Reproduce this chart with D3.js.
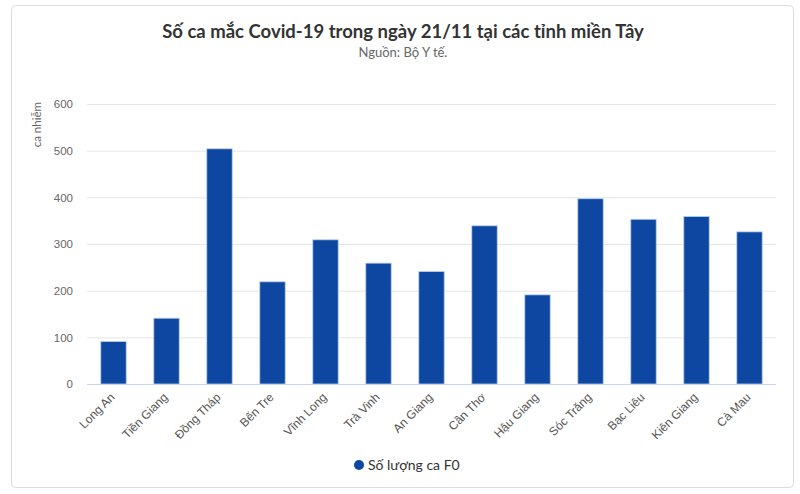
<!DOCTYPE html>
<html>
<head>
<meta charset="utf-8">
<script src="https://cdn.jsdelivr.net/npm/d3@7"></script>
<style>
  html, body { margin: 0; padding: 0; background: #fff; }
  svg { display: block; font-family: Lato, "Open Sans", sans-serif; }
</style>
</head>
<body>
<svg id="chart" width="800" height="494"></svg>
<script>
const categories = ["Long An", "Tiền Giang", "Đồng Tháp", "Bến Tre", "Vĩnh Long", "Trà Vinh", "An Giang", "Cần Thơ", "Hậu Giang", "Sóc Trăng", "Bạc Liêu", "Kiên Giang", "Cà Mau"];
const values = [91, 141, 504, 219, 309, 259, 241, 339, 191, 397, 353, 359, 326];
const yTicks = [0, 100, 200, 300, 400, 500, 600];
const seriesName = "Số lượng ca F0";
const titleText = "Số ca mắc Covid-19 trong ngày 21/11 tại các tỉnh miền Tây";
const subtitleText = "Nguồn: Bộ Y tế.";
const yTitle = "ca nhiễm";

const svg = d3.select("#chart");
const plot = { left: 87, right: 776, top: 104, bottom: 384 };
const barColor = "#0d47a1";

// outer frame
svg.append("rect")
  .attr("x", 11.5).attr("y", 5.5)
  .attr("width", 782).attr("height", 482)
  .attr("rx", 4).attr("ry", 4)
  .attr("fill", "#fff").attr("stroke", "#dcdcdc").attr("stroke-width", 1);

const x = d3.scaleBand().domain(categories).range([plot.left, plot.right]).paddingInner(0.52).paddingOuter(0.26);
const y = d3.scaleLinear().domain([0, 600]).range([plot.bottom, plot.top]);

// gridlines
const yAxis = d3.axisLeft(y).tickValues(yTicks).tickSize(-(plot.right - plot.left)).tickPadding(14);
const gy = svg.append("g").attr("transform", `translate(${plot.left},0)`).call(yAxis);
gy.select(".domain").remove();
gy.selectAll(".tick line").attr("stroke", "#e6e6e6").attr("stroke-width", 1);
gy.selectAll(".tick text").attr("fill", "#666").attr("font-size", "11.5px");

// bars
svg.append("g").selectAll("rect").data(values).join("rect")
  .attr("x", (d, i) => x(categories[i]))
  .attr("y", d => y(d))
  .attr("width", x.bandwidth())
  .attr("height", d => y(0) - y(d))
  .attr("fill", barColor)
  .attr("stroke", "#bcd0f0").attr("stroke-width", 0.8);

// x axis
const xAxis = d3.axisBottom(x).tickSize(0).tickPadding(0);
const gx = svg.append("g").attr("transform", `translate(0,${plot.bottom})`).call(xAxis);
gx.select(".domain").attr("stroke", "#ccd6eb").attr("d", `M${plot.left},0.5H${plot.right}`);
gx.selectAll(".tick text")
  .attr("fill", "#555").attr("font-size", "12px")
  .attr("text-anchor", "end")
  .attr("dy", "0")
  .attr("transform", "translate(2,14) rotate(-45)");

// y axis title
svg.append("text")
  .attr("transform", `translate(41,${plot.top - 2}) rotate(-90)`)
  .attr("text-anchor", "end")
  .attr("fill", "#666").attr("font-size", "11.5px")
  .text(yTitle);

// title
svg.append("text").attr("x", 403).attr("y", 38).attr("text-anchor", "middle")
  .attr("fill", "#333").attr("font-size", "18.5px").attr("font-weight", "bold").text(titleText);
svg.append("text").attr("x", 403).attr("y", 57).attr("text-anchor", "middle")
  .attr("fill", "#666").attr("font-size", "13px").text(subtitleText);

// legend
const lg = svg.append("g").attr("transform", "translate(359,465)");
lg.append("circle").attr("r", 5).attr("fill", barColor);
lg.append("text").attr("x", 9).attr("y", 5).attr("fill", "#333").attr("font-size", "14px").text(seriesName);
</script>
</body>
</html>
